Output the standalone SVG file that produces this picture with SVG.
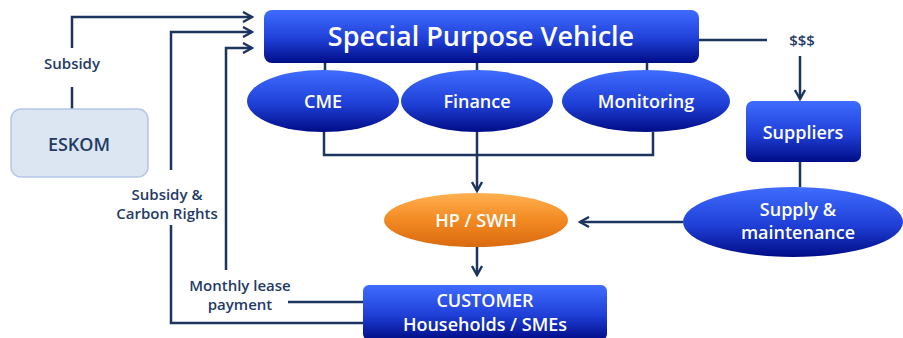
<svg xmlns="http://www.w3.org/2000/svg" width="903" height="338" viewBox="0 0 903 338">
<defs>
<linearGradient id="blue" x1="0" y1="0" x2="0" y2="1">
<stop offset="0" stop-color="#3f6cff"/>
<stop offset="0.55" stop-color="#1f3fd6"/>
<stop offset="1" stop-color="#000c86"/>
</linearGradient>
<linearGradient id="orange" x1="0" y1="0" x2="0" y2="1">
<stop offset="0" stop-color="#ffb050"/>
<stop offset="0.5" stop-color="#f28a22"/>
<stop offset="1" stop-color="#d96a10"/>
</linearGradient>
<marker id="ah" viewBox="0 0 12 12" refX="10" refY="6" markerWidth="12" markerHeight="12" markerUnits="userSpaceOnUse" orient="auto">
<path d="M1,1 L10,6 L1,11" fill="none" stroke="#1b355e" stroke-width="2.4"/>
</marker>
</defs>
<style>
.c{fill:none;stroke:#1b355e;stroke-width:2.5}
.w{font-family:"Open Sans","Liberation Sans",sans-serif;font-weight:600;fill:#fff;text-anchor:middle}
.l{font-family:"Open Sans","Liberation Sans",sans-serif;font-weight:600;fill:#1f3b66;font-size:15px;text-anchor:middle}
.b{fill:url(#blue)}
</style>
<rect width="903" height="338" fill="#fff"/>
<g id="connectors">
<path class="c" d="M72,109 V87 M72,48 V17 H252" marker-end="url(#ah)"/>
<path class="c" d="M171,170 V32 H252" marker-end="url(#ah)"/>
<path class="c" d="M363,323 H171 V225"/>
<path class="c" d="M226,270 V48 H252" marker-end="url(#ah)"/>
<path class="c" d="M363,302 H288"/>
<path class="c" d="M325,63 V72 M477,63 V72 M647,63 V72"/>
<path class="c" d="M324,132 V155 H653 V132"/>
<path class="c" d="M477,132 V191" marker-end="url(#ah)"/>
<path class="c" d="M477,247 V275" marker-end="url(#ah)"/>
<path class="c" d="M699,40 H767"/>
<path class="c" d="M800,56 V99" marker-end="url(#ah)"/>
<path class="c" d="M800,162 V187"/>
<path class="c" d="M683,222 H580" marker-end="url(#ah)"/>
</g>
<g id="spv"><rect x="264" y="10" width="435" height="53" rx="8" class="b"/><text x="481" y="46" class="w" font-size="27">Special Purpose Vehicle</text></g>
<g id="cme"><ellipse cx="323" cy="101" rx="76" ry="31" class="b"/><text x="323" y="108" class="w" font-size="18">CME</text></g>
<g id="finance"><ellipse cx="477" cy="101" rx="76" ry="31" class="b"/><text x="477" y="108" class="w" font-size="18">Finance</text></g>
<g id="monitoring"><ellipse cx="646" cy="101" rx="84" ry="31" class="b"/><text x="646" y="108" class="w" font-size="18">Monitoring</text></g>
<g id="eskom"><rect x="11" y="109" width="137" height="68" rx="10" fill="#dce6f2" stroke="#b4c7e7" stroke-width="1.5"/><text x="79" y="151" font-family="'Open Sans','Liberation Sans',sans-serif" font-weight="600" font-size="18" fill="#1f3b66" text-anchor="middle">ESKOM</text></g>
<g id="suppliers"><rect x="746" y="101" width="115" height="61" rx="7" class="b"/><text x="803" y="139" class="w" font-size="18">Suppliers</text></g>
<g id="supply"><ellipse cx="793" cy="222" rx="110" ry="35" class="b"/><text x="798" y="216" class="w" font-size="18">Supply &amp;</text><text x="798" y="239" class="w" font-size="18">maintenance</text></g>
<g id="hpswh"><ellipse cx="476" cy="220" rx="92" ry="27" fill="url(#orange)"/><text x="476" y="227" class="w" font-size="18">HP / SWH</text></g>
<g id="customer"><rect x="363" y="285" width="244" height="55" rx="6" class="b"/><text x="485" y="307" class="w" font-size="18">CUSTOMER</text><text x="485" y="331" class="w" font-size="18">Households / SMEs</text></g>
<g id="labels">
<text x="72" y="69" class="l">Subsidy</text>
<text x="167" y="200" class="l">Subsidy &amp;</text>
<text x="167" y="219" class="l">Carbon Rights</text>
<text x="240" y="291" class="l">Monthly lease</text>
<text x="240" y="310" class="l">payment</text>
<text x="802" y="46" class="l">$$$</text>
</g>
</svg>
